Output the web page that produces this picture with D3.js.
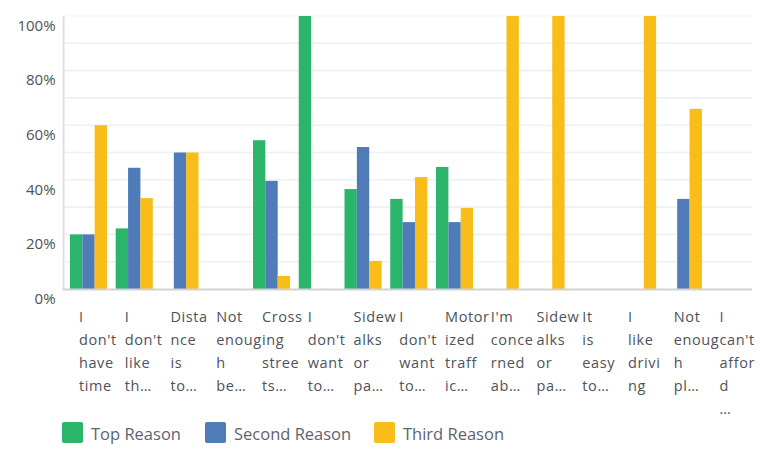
<!DOCTYPE html>
<html>
<head>
<meta charset="utf-8">
<script src="https://cdn.jsdelivr.net/npm/d3@7"></script>
<style>
  html, body { margin: 0; padding: 0; background: #fff; }
  svg { display: block; font-family: "Open Sans", "Noto Sans", sans-serif; }
</style>
</head>
<body>
<svg id="chart" width="760" height="455"></svg>
<script>
// Answer labels, already wrapped the way the survey tool trims them
const categories = [
  ["I", "don't", "have", "time"],
  ["I", "don't", "like", "th…"],
  ["Dista", "nce", "is", "to…"],
  ["Not", "enoug", "h", "be…"],
  ["Cross", "ing", "stree", "ts…"],
  ["I", "don't", "want", "to…"],
  ["Sidew", "alks", "or", "pa…"],
  ["I", "don't", "want", "to…"],
  ["Motor", "ized", "traff", "ic…"],
  ["I'm", "conce", "rned", "ab…"],
  ["Sidew", "alks", "or", "pa…"],
  ["It", "is", "easy", "to…"],
  ["I", "like", "drivi", "ng"],
  ["Not", "enoug", "h", "pl…"],
  ["I", "can't", "affor", "d", "…"]
];

const seriesNames = ["Top Reason", "Second Reason", "Third Reason"];

// Percent of respondents per answer
const topReason    = [20, 22.2, 0, 0, 54.5, 100, 36.6, 33, 44.7, 0, 0, 0, 0, 0, 0];
const secondReason = [20, 44.4, 50, 0, 39.6, 0, 52, 24.5, 24.5, 0, 0, 0, 0, 33, 0];
const thirdReason  = [60, 33.3, 50, 0, 4.8, 0, 10.3, 41, 29.7, 100, 100, 0, 100, 66, 0];

const yTicks = [0, 20, 40, 60, 80, 100];

const colors = ["#2bb56b", "#4f7cb9", "#f8bd19"];

const svg = d3.select("#chart");
const plot = { left: 65.6, right: 752, top: 16, bottom: 289 };

const seriesValues = [topReason, secondReason, thirdReason];
const rows = categories.map((lines, i) => ({
  i, lines,
  values: seriesValues.map((arr, s) => ({ s, v: arr[i] }))
}));

const x = d3.scaleBand()
  .domain(d3.range(categories.length))
  .range([plot.left, plot.right])
  .paddingInner(0.19)
  .paddingOuter(0.095);

const xSub = d3.scaleBand()
  .domain(d3.range(seriesNames.length))
  .range([0, x.bandwidth()]);

const y = d3.scaleLinear().domain([0, 100]).range([plot.bottom, plot.top]);

// Light gridlines every 10%
svg.append("g")
  .selectAll("line")
  .data(d3.range(10, 101, 10))
  .join("line")
  .attr("x1", plot.left - 1)
  .attr("x2", plot.right)
  .attr("y1", d => y(d))
  .attr("y2", d => y(d))
  .attr("stroke", d => d === 100 ? "#f6f7f7" : "#eef0f1")
  .attr("stroke-width", 1.6);

// Bars
const groups = svg.append("g")
  .selectAll("g")
  .data(rows)
  .join("g")
  .attr("transform", d => `translate(${x(d.i)},0)`);

groups.selectAll("rect")
  .data(d => d.values.filter(e => e.v > 0))
  .join("rect")
  .attr("x", d => xSub(d.s))
  .attr("width", xSub.bandwidth())
  .attr("y", d => y(d.v))
  .attr("height", d => y(0) - y(d.v))
  .attr("fill", d => colors[d.s]);

// Axis lines
svg.append("line")
  .attr("x1", plot.left - 2).attr("x2", plot.left - 2)
  .attr("y1", plot.top).attr("y2", plot.bottom + 1)
  .attr("stroke", "#dcdcdc").attr("stroke-width", 1.8);
svg.append("line")
  .attr("x1", plot.left - 3).attr("x2", plot.right)
  .attr("y1", plot.bottom + 0.5).attr("y2", plot.bottom + 0.5)
  .attr("stroke", "#d2d2d2").attr("stroke-width", 1.8);

// Y axis labels (drawn with d3.axisLeft, domain/ticks hidden)
const yAxis = svg.append("g")
  .attr("transform", `translate(${plot.left - 10},0)`)
  .call(d3.axisLeft(y).tickValues(yTicks).tickFormat(d => d + "%").tickSize(0).tickPadding(0));
yAxis.select(".domain").remove();
yAxis.selectAll("text")
  .attr("dy", "0.95em")
  .attr("font-size", 15)
  .attr("font-family", "\"Open Sans\", sans-serif")
  .attr("fill", "#4d525d");

// Category labels
const labelStep = x.step();
const labels = svg.append("g")
  .selectAll("text")
  .data(rows)
  .join("text")
  .attr("x", d => x(d.i) + 9)
  .attr("y", 322)
  .attr("font-size", 14.5)
  .attr("letter-spacing", 0.6)
  .attr("fill", "#4d525d");
labels.selectAll("tspan")
  .data(d => d.lines.map((t, k) => ({ t, k, x: x(d.i) + 9 })))
  .join("tspan")
  .attr("x", d => d.x)
  .attr("dy", d => d.k === 0 ? 0 : 23)
  .text(d => d.t);

// Legend
const legendX = [62, 205, 374];
const legend = svg.append("g")
  .selectAll("g")
  .data(seriesNames)
  .join("g")
  .attr("transform", (d, i) => `translate(${legendX[i]},422)`);
legend.append("rect")
  .attr("width", 21).attr("height", 21).attr("rx", 2)
  .attr("fill", (d, i) => colors[i]);
legend.append("text")
  .attr("x", 29).attr("y", 17.5)
  .attr("font-size", 16.5)
  .attr("fill", "#5e6370")
  .text(d => d);
</script>
</body>
</html>
